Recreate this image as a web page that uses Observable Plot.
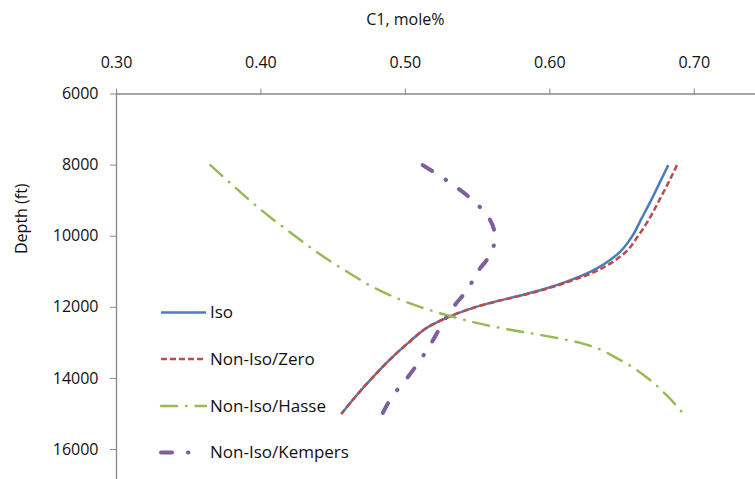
<!DOCTYPE html>
<html>
<head>
<meta charset="utf-8">
<script src="https://cdn.jsdelivr.net/npm/d3@7"></script>
<script src="https://cdn.jsdelivr.net/npm/@observablehq/plot@0.6"></script>
<style>
  html, body { margin: 0; padding: 0; background: #fff; }
  #chart { width: 755px; height: 479px; overflow: hidden; }
</style>
</head>
<body>
<div id="chart"></div>
<script>
// Depth profile of methane (C1) mole fraction for four thermal-diffusion models
const depthFt = [8000, 8500, 9000, 9500, 10000, 10500, 11000, 11500, 12000, 12500, 13000, 13500, 14000, 14500, 15000];
const iso      = [0.682, 0.676, 0.670, 0.6635, 0.657, 0.647, 0.628, 0.595, 0.548, 0.518, 0.502, 0.4885, 0.4767, 0.4657, 0.4556];
const nonIsoZero    = [0.688, 0.682, 0.6756, 0.669, 0.661, 0.651, 0.631, 0.596, 0.548, 0.518, 0.502, 0.4885, 0.4767, 0.4657, 0.4556];
const nonIsoHasse   = [0.365, 0.3786, 0.3925, 0.4075, 0.4238, 0.4406, 0.4597, 0.481, 0.511, 0.556, 0.621, 0.6496, 0.668, 0.6815, 0.6926];
const nonIsoKempers = [0.512, 0.531, 0.547, 0.558, 0.562, 0.559, 0.550, 0.543, 0.533, 0.525, 0.518, 0.510, 0.501, 0.491, 0.484];

const xTicks = [0.30, 0.40, 0.50, 0.60, 0.70];
const yTicks = [6000, 8000, 10000, 12000, 14000, 16000];
const xTitle = "C1, mole%";
const yTitle = "Depth (ft)";

const series = [
  {name: "Iso",             values: iso,           stroke: "#4A7EBB", width: 2.5, dash: null,           cap: "butt",  key: 46},
  {name: "Non-Iso/Zero",    values: nonIsoZero,    stroke: "#BE4B48", width: 2.5, dash: "6,3",          cap: "butt",  key: 46},
  {name: "Non-Iso/Hasse",   values: nonIsoHasse,   stroke: "#98B954", width: 2.5, dash: "16,9,0.5,9",   cap: "round", key: 46},
  {name: "Non-Iso/Kempers", values: nonIsoKempers, stroke: "#7D5FA0", width: 4,   dash: "11,16,0.5,16", cap: "round", key: 31}
];

const rows = s => depthFt.map((d, i) => ({depth: d, c1: s.values[i]}));
const axisGrey = "#888";
const font = "'Open Sans', sans-serif";

const chart = Plot.plot({
  width: 755,
  height: 479,
  marginTop: 93.5,
  marginLeft: 116,
  marginRight: 0,
  marginBottom: 0,
  x: {domain: [0.30, 0.75], range: [116, 766]},
  y: {domain: [6000, 17000], range: [93.5, 484.6]},
  style: {fontFamily: font, fontSize: "16px", color: "#111", background: "white"},
  marks: [
    Plot.ruleY([6000], {stroke: axisGrey, strokeWidth: 1.3}),
    Plot.ruleX([0.30], {stroke: axisGrey, strokeWidth: 1.3}),
    Plot.axisX({anchor: "top", ticks: xTicks, tickFormat: d3.format(".2f"), tickSize: 6, tickPadding: 20, label: null, stroke: axisGrey, fill: "#111", fontSize: 16}),
    Plot.axisY({anchor: "left", ticks: yTicks, tickFormat: d3.format("d"), tickSize: 6, tickPadding: 12, label: null, stroke: axisGrey, fill: "#111", fontSize: 16}),
    ...series.map(s => Plot.line(rows(s), {
      x: "c1", y: "depth", curve: "monotone-y",
      stroke: s.stroke, strokeWidth: s.width,
      strokeDasharray: s.dash ?? undefined,
      strokeLinecap: s.cap
    })),
    Plot.text([xTitle], {x: () => 0.50, frameAnchor: "top", dy: -80, fontSize: 16, fill: "#111"}),
    Plot.text([yTitle], {y: () => 10500, frameAnchor: "left", dx: -95, rotate: -90, fontSize: 16, fill: "#111"})
  ]
});

document.getElementById("chart").append(chart);

// Legend inside the plot area, lower left
const svg = d3.select(chart);
const legend = svg.append("g")
  .attr("font-family", font).attr("font-size", 17).attr("text-anchor", "start");
const rowY = [312.5, 359, 406, 452.5];
series.forEach((s, i) => {
  const g = legend.append("g").attr("transform", `translate(160,${rowY[i]})`);
  g.append("line")
    .attr("x1", 1).attr("x2", s.key).attr("y1", 0).attr("y2", 0)
    .attr("stroke", s.stroke).attr("stroke-width", s.width)
    .attr("stroke-linecap", s.cap)
    .attr("stroke-dasharray", s.dash);
  g.append("text").attr("x", 50).attr("dy", "0.35em").attr("fill", "#111").text(s.name);
});
</script>
</body>
</html>
